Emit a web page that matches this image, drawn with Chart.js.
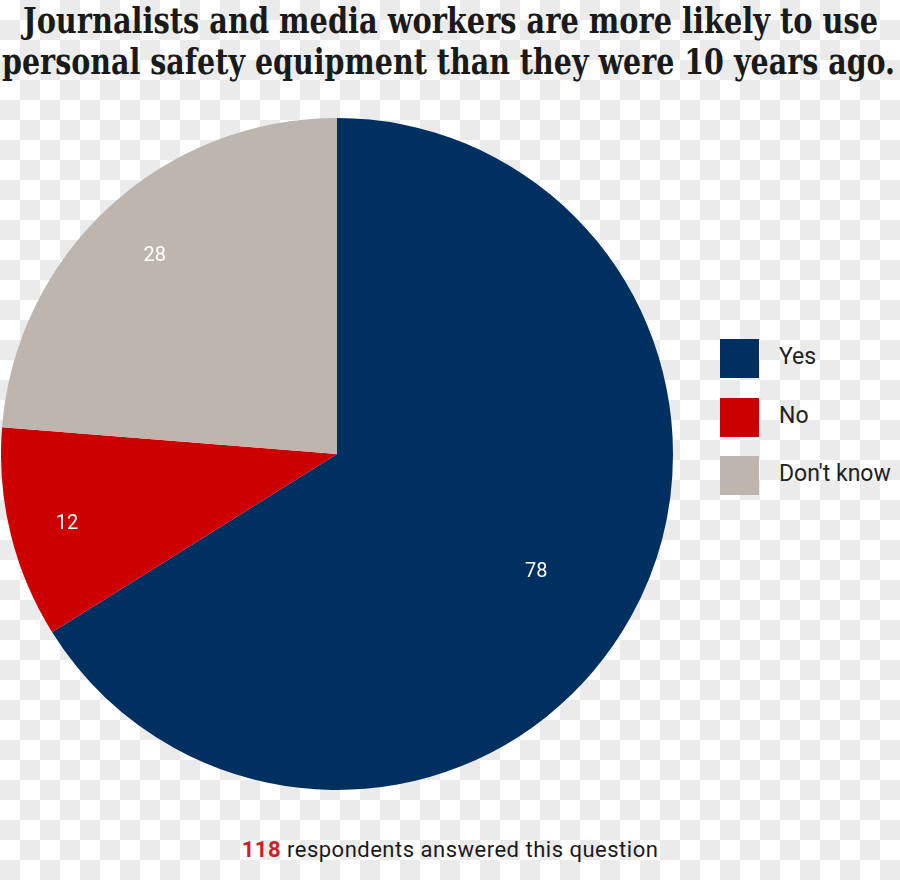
<!DOCTYPE html>
<html>
<head>
<meta charset="utf-8">
<script src="https://cdn.jsdelivr.net/npm/chart.js@4"></script>
<style>
  html, body {
    margin: 0;
    padding: 0;
  }
  body {
    width: 900px;
    height: 880px;
    position: relative;
    overflow: hidden;
    background: #fff repeating-conic-gradient(#ebebeb 0 25%, #fff 0 50%) 0 0 / 40px 40px;
  }
  .title {
    position: absolute;
    left: 450px;
    font-family: "DejaVu Serif Condensed", "DejaVu Serif", serif;
    font-weight: bold;
    font-size: 35px;
    color: #1a1a1a;
    white-space: nowrap;
    transform-origin: left top;
  }
  #pieBox {
    position: absolute;
    left: 1px;
    top: 118px;
    width: 672px;
    height: 672px;
  }
  #legend {
    position: absolute;
    left: 720px;
    top: 339px;
    font-family: Roboto, "Noto Sans", sans-serif;
    font-size: 23px;
    color: #222;
  }
  .item {
    height: 58.5px;
    position: relative;
  }
  .box {
    position: absolute;
    left: 0;
    top: 0;
    width: 39px;
    height: 39px;
  }
  .lbl {
    position: absolute;
    left: 59px;
    top: 4px;
    white-space: nowrap;
  }
  #footer {
    position: absolute;
    left: 0;
    width: 900px;
    top: 837px;
    text-align: center;
    font-family: Roboto, "Noto Sans", sans-serif;
    font-size: 22px;
    letter-spacing: 0.5px;
    color: #1a1a1a;
  }
  #footer b {
    color: #cc1f2a;
  }
</style>
</head>
<body>
<div class="title" id="t1" style="top:0px">Journalists and media workers are more likely to use</div>
<div class="title" id="t2" style="top:41px">personal safety equipment than they were 10 years ago.</div>

<div id="pieBox"><canvas id="pie" width="672" height="672"></canvas></div>
<div id="legend"></div>
<div id="footer"><b>118</b> respondents answered this question</div>

<script>
  // chart data
  const categories = ["Yes", "No", "Don't know"];
  const counts = [78, 12, 28];
  const colors = ["#00305f", "#cc0000", "#bdb5ae"];

  // squeeze each title line to the span it has in the picture
  const titleSpans = { t1: [23, 878], t2: [2, 895] };
  Object.keys(titleSpans).forEach((id) => {
    const el = document.getElementById(id);
    const w = el.getBoundingClientRect().width;
    const [x0, x1] = titleSpans[id];
    el.style.left = x0 + "px";
    el.style.transform = "scaleX(" + ((x1 - x0) / w) + ")";
  });

  // legend on the right
  const legend = document.getElementById("legend");
  categories.forEach((name, i) => {
    const item = document.createElement("div");
    item.className = "item";
    item.innerHTML = '<div class="box" style="background:' + colors[i] + '"></div>' +
      '<div class="lbl">' + name + "</div>";
    legend.appendChild(item);
  });

  // white numbers inside the slices
  const sliceLabels = {
    id: "sliceLabels",
    afterDatasetsDraw(chart, args, opts) {
      const ctx = chart.ctx;
      const meta = chart.getDatasetMeta(0);
      ctx.save();
      ctx.fillStyle = "#fff";
      ctx.font = "20px Roboto, 'Noto Sans', sans-serif";
      ctx.textAlign = "center";
      ctx.textBaseline = "middle";
      meta.data.forEach((arc, i) => {
        const mid = (arc.startAngle + arc.endAngle) / 2 + opts.turn[i];
        const r = arc.outerRadius * opts.radius[i];
        ctx.fillText(chart.data.datasets[0].data[i], arc.x + Math.cos(mid) * r, arc.y + Math.sin(mid) * r);
      });
      ctx.restore();
    },
  };

  const ctx = document.getElementById("pie").getContext("2d");
  const myChart = new Chart(ctx, {
    type: "pie",
    data: {
      labels: categories,
      datasets: [
        {
          data: counts,
          backgroundColor: colors,
          borderWidth: 0,
        },
      ],
    },
    options: {
      responsive: false,
      animation: false,
      layout: { padding: 0 },
      plugins: {
        legend: { display: false },
        tooltip: { enabled: false },
        sliceLabels: { radius: [0.69, 0.83, 0.8], turn: [0.03, -0.015, 0] },
      },
    },
    plugins: [sliceLabels],
  });
</script>
</body>
</html>
